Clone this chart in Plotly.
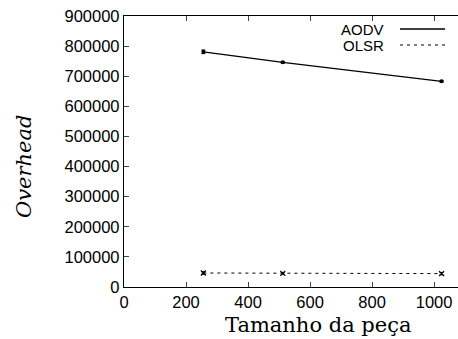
import plotly.graph_objects as go

piece_sizes = [256, 512, 1024]
aodv = [781000, 746000, 683000]
aodv_err = [6000, 3000, 3000]
olsr = [46500, 45500, 44500]
olsr_err = [4000, 3000, 4000]

x_ticks = [0, 200, 400, 600, 800, 1000]
y_ticks = [0, 100000, 200000, 300000, 400000, 500000, 600000, 700000, 800000, 900000]

L, T, B, W, H = 124, 16, 52, 458, 339
PW, PH = W - L, H - T - B

def px(xpix):
    return (xpix - L) / PW

def py(ypix):
    return 1 - (ypix - T) / PH

fig = go.Figure()
fig.add_trace(go.Scatter(
    x=piece_sizes, y=aodv, mode="lines+markers", name="AODV",
    line=dict(color="black", width=1.3),
    marker=dict(color="black", size=4, symbol="circle"),
    error_y=dict(type="data", array=aodv_err, color="black", thickness=1, width=2),
    showlegend=False))
fig.add_trace(go.Scatter(
    x=piece_sizes, y=olsr, mode="lines+markers", name="OLSR",
    line=dict(color="black", width=1, dash="3px,4px"),
    marker=dict(color="black", size=5, symbol="x-thin", line=dict(width=1.2, color="black")),
    error_y=dict(type="data", array=olsr_err, color="black", thickness=1, width=2),
    showlegend=False))

tickfont = dict(family="Liberation Sans, Arial, sans-serif", size=16.5, color="black")
title_font = "DejaVu Serif, Liberation Serif, serif"
fig.update_layout(
    width=W, height=H,
    margin=dict(l=L, r=0, t=T, b=B),
    paper_bgcolor="white", plot_bgcolor="white",
    xaxis=dict(range=[0, 1077], tickvals=x_ticks, ticks="inside", ticklen=5,
               showline=True, linecolor="black", linewidth=1.3, mirror="ticks",
               showgrid=False, zeroline=False, tickfont=tickfont),
    yaxis=dict(range=[0, 900000], tickvals=y_ticks, tickformat="d", ticks="inside", ticklen=5,
               showline=True, linecolor="black", linewidth=1.3, mirror=False,
               showgrid=False, zeroline=False, tickfont=tickfont),
)

# axis titles
fig.add_annotation(xref="paper", yref="paper", x=px(318), y=py(325),
                   text="Tamanho da peça", showarrow=False,
                   xanchor="center", yanchor="middle",
                   font=dict(family=title_font, size=21, color="black"))
fig.add_annotation(xref="paper", yref="paper", x=px(24), y=py(167),
                   text="<i>Overhead</i>", showarrow=False, textangle=-90,
                   xanchor="center", yanchor="middle",
                   font=dict(family=title_font, size=21, color="black"))

# manual legend (text left of sample line)
legend_font = dict(family="Liberation Sans, Arial, sans-serif", size=15, color="black")
for label, yy, dash, w in [("AODV", 29, "solid", 1.3), ("OLSR", 45, "3px,4px", 1)]:
    fig.add_annotation(xref="paper", yref="paper", x=px(386), y=py(yy),
                       text=label, showarrow=False, xanchor="right", yanchor="middle",
                       font=legend_font)
    fig.add_shape(type="line", xref="paper", yref="paper",
                  x0=px(400), x1=px(445), y0=py(yy), y1=py(yy),
                  line=dict(color="black", width=w, dash=dash))

fig.write_html("out.html")
